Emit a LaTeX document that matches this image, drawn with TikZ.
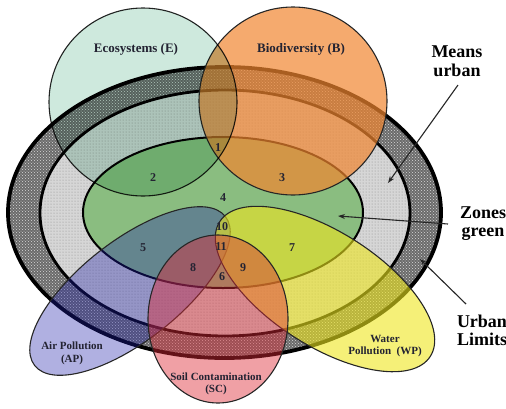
\documentclass[tikz,border=0pt]{standalone}
\usepackage{fontspec}
\setmainfont{Liberation Serif}
\usetikzlibrary{patterns,arrows.meta}
\definecolor{ecoC}{RGB}{206,233,221}
\definecolor{bioC}{RGB}{241,134,48}
\definecolor{greenC}{RGB}{138,189,128}
\definecolor{apC}{RGB}{30,30,170}
\definecolor{wpC}{RGB}{238,230,30}
\definecolor{scC}{RGB}{222,44,56}
\definecolor{txtC}{RGB}{35,35,50}
\begin{document}
\begin{tikzpicture}[x=1pt,y=-1pt,
  venn/.style={draw=black!85, line width=1.1pt},
  num/.style={font=\fontsize{12}{12}\selectfont\bfseries, text=txtC, anchor=base, inner sep=0pt},
  lab/.style={font=\fontsize{11}{12}\selectfont\bfseries, text=txtC, anchor=base, inner sep=0pt},
  toplab/.style={font=\fontsize{13}{14}\selectfont\bfseries, text=txtC, anchor=base, inner sep=0pt},
  biglab/.style={font=\fontsize{18}{19}\selectfont\bfseries, text=black, anchor=base, inner sep=0pt},
  ptr/.style={draw=black!85, line width=1.1pt, -{Stealth[length=7pt,width=5pt]}}]
\useasboundingbox (0,0) rectangle (506,408);
% urban limits ring
\path[fill=black!58] (224.5,212.5) ellipse [x radius=216.5, y radius=145.5];
\path[pattern=crosshatch dots, pattern color=white!85!black] (224.5,212.5) ellipse [x radius=216.5, y radius=145.5];
\path[fill=black!16] (225,213) ellipse [x radius=185, y radius=123];
\path[pattern=dots, pattern color=black!45] (225,213) ellipse [x radius=185, y radius=123];
\draw[line width=3.8pt] (224.5,212.5) ellipse [x radius=216.5, y radius=145.5];
\draw[line width=2.8pt] (225,213) ellipse [x radius=185, y radius=123];
% green zones
\draw[fill=greenC, line width=2pt] (223,212.5) ellipse [x radius=140, y radius=75.5];
% biodiversity and ecosystems
\draw[venn, fill=bioC, fill opacity=0.7] (293,101) circle [radius=94];
\begin{scope}[blend mode=multiply]
\draw[venn, fill=ecoC] (143,102) circle [radius=94];
\end{scope}
% pollution
\draw[venn, fill=apC, fill opacity=0.35, rotate around={38:(130,291)}] (130,291) ellipse [x radius=121, y radius=50];
\draw[venn, fill=wpC, fill opacity=0.6, rotate around={-32.6:(325,289)}] (325,289) ellipse [x radius=125, y radius=57];
\draw[venn, fill=scC, fill opacity=0.45] (218,319) ellipse [x radius=70, y radius=84];
% labels
\node[toplab] (labE) at (136,52) {Ecosystems (E)};
\node[toplab] (labB) at (301,52) {Biodiversity (B)};
\node[lab] (labAPa) at (72,349.5) {Air Pollution};
\node[lab] (labAPb) at (72,362) {(AP)};
\node[lab] (labSCa) at (216,380) {Soil Contamination};
\node[lab] (labSCb) at (216,392.5) {(SC)};
\node[lab] (labWPa) at (385,342.5) {Water};
\node[lab] (labWPb) at (385,354.5) {Pollution~~(WP)};
% region numbers
\node[num] (n1) at (218,151) {1};
\node[num] (n2) at (153,181) {2};
\node[num] (n3) at (282,181) {3};
\node[num] (n4) at (223,201) {4};
\node[num] (n5) at (143,251) {5};
\node[num] (n6) at (222,280.5) {6};
\node[num] (n7) at (292,251) {7};
\node[num] (n8) at (193,271) {8};
\node[num] (n9) at (243,271) {9};
\node[num] (n10) at (222,230) {10};
\node[num] (n11) at (221,250) {11};
% side labels
\node[biglab] (meansA) at (457,57) {Means};
\node[biglab] (meansB) at (457,76) {urban};
\node[biglab] (zonesA) at (483,218) {Zones};
\node[biglab] (zonesB) at (483,236) {green};
\node[biglab] (urbA) at (482,327) {Urban};
\node[biglab] (urbB) at (482,345) {Limits};
% pointers
\coordinate (mA) at (458,85);
\coordinate (mB) at (388,183);
\coordinate (zA) at (448,224);
\coordinate (zB) at (338,216);
\coordinate (uA) at (466,304);
\coordinate (uB) at (420,259);
\draw[ptr] (mA) -- (mB);
\draw[ptr] (zA) -- (zB);
\draw[ptr] (uA) -- (uB);
\end{tikzpicture}
\end{document}
